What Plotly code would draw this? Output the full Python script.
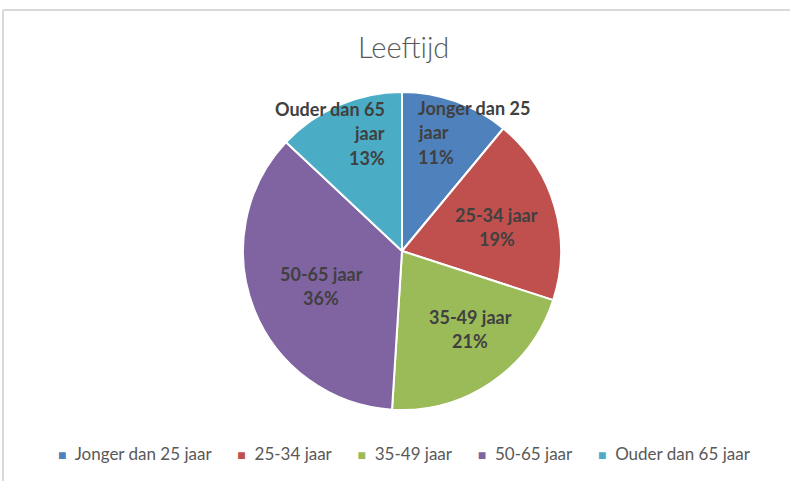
import math
import textwrap
import plotly.graph_objects as go

# ---- data ----
categories = ["Jonger dan 25 jaar", "25-34 jaar", "35-49 jaar", "50-65 jaar", "Ouder dan 65 jaar"]
values = [11, 19, 21, 36, 13]
colors = ["#4F81BD", "#C0504D", "#9BBB59", "#8064A2", "#4BACC6"]
title_text = "Leeftijd"

# ---- layout / style constants ----
W, H = 790, 481
CX, CY, R = 402, 251, 159          # pie centre and radius in px
FONT = "Lato"
LABEL_COLOR = "#404040"
LABEL_SIZE = 18
LINE_STEP = 24.5
# data-label placement (style): radius fraction, angle tweak (deg), alignment
label_rfrac = [0.753, 0.616, 0.651, 0.555, 0.748]
label_dang = [-13.1, 2.0, -6.9, -1.8, 16.2]
label_align = ["left", "center", "center", "center", "right"]


def px2paper(x, y):
    return x / W, 1 - y / H


fig = go.Figure()
fig.add_trace(go.Pie(
    labels=categories,
    values=values,
    sort=False,
    direction="clockwise",
    rotation=0,
    marker=dict(colors=colors, line=dict(color="white", width=2)),
    textinfo="none",
    hoverinfo="label+percent",
    showlegend=False,
    domain=dict(x=[(CX - R) / W, (CX + R) / W], y=[1 - (CY + R) / H, 1 - (CY - R) / H]),
))

annotations = []
total = sum(values)
cum = 0
for i, (cat, v) in enumerate(zip(categories, values)):
    mid = (cum + v / 2) / total * 360
    cum += v
    ang = math.radians(mid + label_dang[i])
    r = R * label_rfrac[i]
    ax = CX + r * math.sin(ang)
    ay = CY - r * math.cos(ang)
    pct = round(v / total * 100)
    lines = textwrap.wrap(cat, width=13) + [f"{pct}%"]
    n = len(lines)
    for j, ln in enumerate(lines):
        ly = ay + (j - (n - 1) / 2) * LINE_STEP
        xp, yp = px2paper(ax, ly)
        annotations.append(dict(
            x=xp, y=yp, xref="paper", yref="paper", text=f"<b>{ln}</b>",
            showarrow=False, xanchor=label_align[i], yanchor="middle",
            font=dict(family=FONT, size=LABEL_SIZE, color=LABEL_COLOR),
        ))

# legend row (built from categories/colors)
sep = "&nbsp;" * 6
parts = []
for cat, c in zip(categories, colors):
    parts.append(f"<span style='color:{c};font-size:14px'>■</span>&nbsp;&nbsp;{cat}")
lx, ly = px2paper(405, 453)
annotations.append(dict(
    x=lx, y=ly, xref="paper", yref="paper", text=sep.join(parts),
    showarrow=False, xanchor="center", yanchor="middle",
    font=dict(family=FONT, size=17, color="#595959"),
))

# title
tx, ty = px2paper(403, 46)
annotations.append(dict(
    x=tx, y=ty, xref="paper", yref="paper", text=title_text,
    showarrow=False, xanchor="center", yanchor="middle",
    font=dict(family=FONT, size=29, color="#595959", weight=300),
))

# chart frame (left and top edges visible)
shapes = [
    dict(type="line", xref="paper", yref="paper", x0=3 / W, x1=3 / W, y0=0, y1=1 - 10 / H,
         line=dict(color="#D9D9D9", width=2)),
    dict(type="line", xref="paper", yref="paper", x0=3 / W, x1=1, y0=1 - 10 / H, y1=1 - 10 / H,
         line=dict(color="#D9D9D9", width=2)),
]

fig.update_layout(
    width=W, height=H, autosize=False,
    margin=dict(l=0, r=0, t=0, b=0),
    paper_bgcolor="white", plot_bgcolor="white",
    annotations=annotations, shapes=shapes,
    showlegend=False,
)

fig.write_html("out.html", config={"displayModeBar": False},
               post_script="document.body.style.margin='0px';")
